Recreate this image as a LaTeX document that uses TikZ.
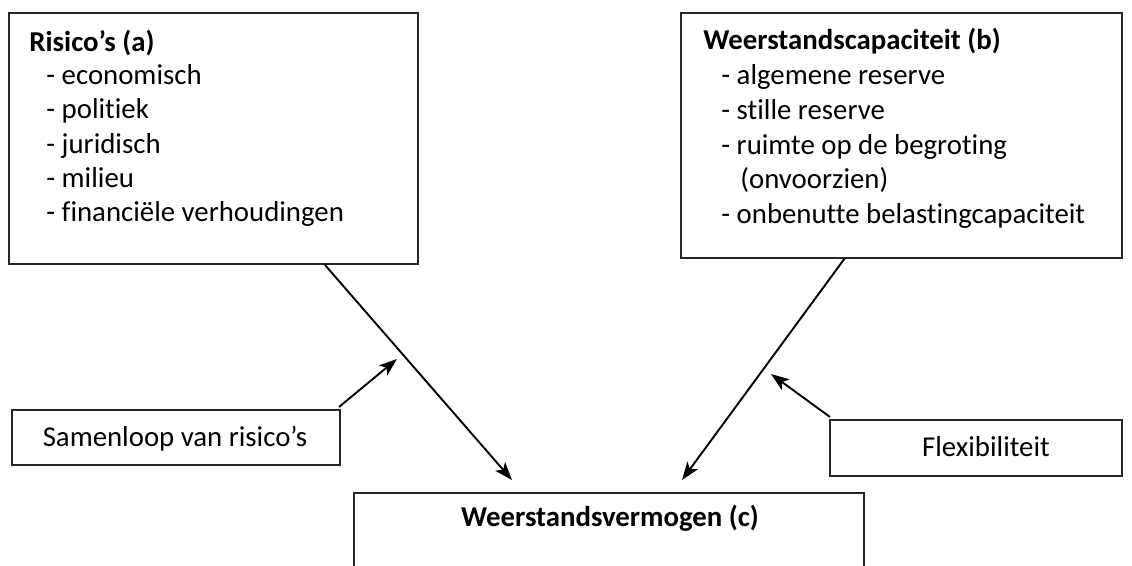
\documentclass[tikz,border=0pt]{standalone}
\usepackage{fontspec}
\setmainfont{Carlito}[Ligatures={NoCommon}]
\usetikzlibrary{arrows.meta}
\begin{document}
\begin{tikzpicture}[x=0.5pt,y=-0.5pt,
  box/.style={draw=black!85, line width=1pt, rectangle, inner sep=0pt},
  txt/.style={inner sep=0pt, anchor=base west, font=\fontsize{14.4}{17.2}\selectfont},
  ctxt/.style={inner sep=0pt, anchor=base, font=\fontsize{14.4}{17.2}\selectfont},
  arr/.style={-{Stealth[length=9pt,width=6.5pt,inset=2.2pt]}, line width=0.95pt}]
\clip (0,0) rectangle (1132,566);
\fill[white] (0,0) rectangle (1132,566);
% boxes
\node[box, minimum width=204.5pt, minimum height=125.5pt] (A) at (213.5,138.5) {};
\node[box, minimum width=220.5pt, minimum height=122.5pt] (B) at (901.5,135.5) {};
\node[box, minimum width=164pt, minimum height=27.5pt] (S) at (176,437.5) {};
\node[box, minimum width=146pt, minimum height=28pt] (F) at (976,448) {};
\node[box, minimum width=255pt, minimum height=53.5pt] (C) at (609,546.5) {};
% texts box A
\node[txt] (a0) at (29,52) {\bfseries Risico’s (a)};
\node[txt] (a1) at (46,85) {- economisch};
\node[txt] (a2) at (46,119) {- politiek};
\node[txt] (a3) at (46,154) {- juridisch};
\node[txt] (a4) at (46,188) {- milieu};
\node[txt] (a5) at (46,222) {- financiële verhoudingen};
% texts box B
\node[txt] (b0) at (703,50) {\bfseries Weerstandscapaciteit (b)};
\node[txt] (b1) at (721,85) {- algemene reserve};
\node[txt] (b2) at (721,120) {- stille reserve};
\node[txt] (b3) at (721,155) {- ruimte op de begroting};
\node[txt] (b4) at (740,189) {(onvoorzien)};
\node[txt] (b5) at (721,224) {- onbenutte belastingcapaciteit};
% small boxes
\node[ctxt] (s0) at (175,447) {Samenloop van risico’s};
\node[ctxt] (f0) at (986,457) {Flexibiliteit};
\node[ctxt] (c0) at (610,527) {\bfseries Weerstandsvermogen (c)};
% connector endpoints
\coordinate (A1) at (325,265);
\coordinate (C1) at (512,480);
\coordinate (B1) at (845,258);
\coordinate (C2) at (682,480);
\coordinate (S1) at (339,407);
\coordinate (L1) at (397,359);
\coordinate (F1) at (830,417);
\coordinate (R1) at (771,374);
\draw[arr] (A1) -- (C1);
\draw[arr] (B1) -- (C2);
\draw[arr] (S1) -- (L1);
\draw[arr] (F1) -- (R1);
\end{tikzpicture}
\end{document}
